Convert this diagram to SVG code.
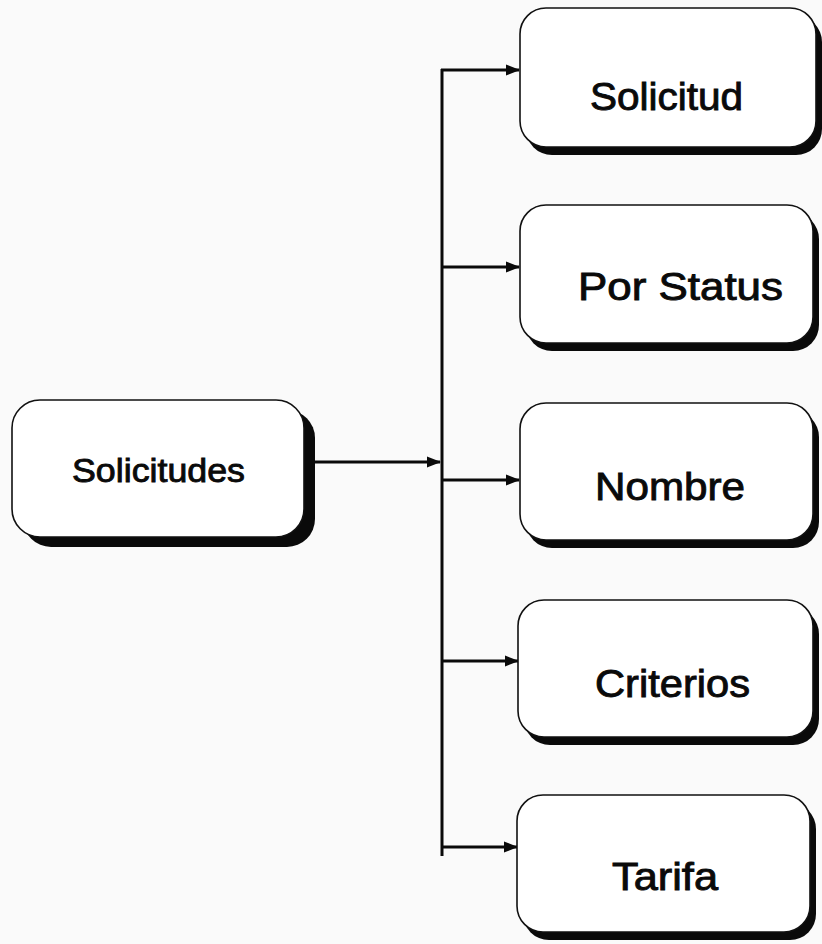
<svg xmlns="http://www.w3.org/2000/svg" width="822" height="944" viewBox="0 0 822 944">
<style>
.box{fill:#fff;stroke:#111;stroke-width:1.6}
.shadow{fill:#0a0a0a}
.lbl{font-family:"Liberation Sans",Arial,sans-serif;fill:#0a0a0a;stroke:#0a0a0a;stroke-width:0.9;text-anchor:start}
.conn{fill:none;stroke:#0a0a0a;stroke-width:3}
</style>
<defs>
<marker id="ah" markerWidth="14" markerHeight="12" refX="13" refY="6" orient="auto" markerUnits="userSpaceOnUse">
<path d="M0,0.5 L14,6 L0,11.5 Z" fill="#0a0a0a"/>
</marker>
</defs>
<rect width="822" height="944" fill="#fafafa"/>
<g id="connectors">
<line class="conn" x1="315" y1="462" x2="440" y2="462" marker-end="url(#ah)"/>
<line class="conn" x1="442" y1="69" x2="442" y2="856"/>
<line class="conn" x1="441" y1="70" x2="519" y2="70" marker-end="url(#ah)"/>
<line class="conn" x1="441" y1="267" x2="519" y2="267" marker-end="url(#ah)"/>
<line class="conn" x1="441" y1="480" x2="519" y2="480" marker-end="url(#ah)"/>
<line class="conn" x1="441" y1="661" x2="518" y2="661" marker-end="url(#ah)"/>
<line class="conn" x1="441" y1="847" x2="517" y2="847" marker-end="url(#ah)"/>
</g>
<g id="solicitudes">
<rect class="shadow" x="23" y="410" width="292" height="137" rx="28"/>
<rect class="box" x="12" y="400" width="292" height="137" rx="28"/>
<text class="lbl" x="72" y="482" font-size="34" textLength="173" lengthAdjust="spacingAndGlyphs">Solicitudes</text>
</g>
<g id="solicitud">
<rect class="shadow" x="526" y="16" width="296" height="139" rx="26"/>
<rect class="box" x="520" y="8" width="296" height="139" rx="26"/>
<text class="lbl" x="590" y="110" font-size="38.5" textLength="153" lengthAdjust="spacingAndGlyphs">Solicitud</text>
</g>
<g id="por-status">
<rect class="shadow" x="526" y="213" width="293" height="138" rx="26"/>
<rect class="box" x="520" y="205" width="293" height="138" rx="26"/>
<text class="lbl" x="578" y="300" font-size="38.5" textLength="205" lengthAdjust="spacingAndGlyphs">Por Status</text>
</g>
<g id="nombre">
<rect class="shadow" x="526" y="411" width="293" height="137" rx="26"/>
<rect class="box" x="520" y="403" width="293" height="137" rx="26"/>
<text class="lbl" x="595" y="500" font-size="38.5" textLength="150" lengthAdjust="spacingAndGlyphs">Nombre</text>
</g>
<g id="criterios">
<rect class="shadow" x="524" y="608" width="295" height="137" rx="26"/>
<rect class="box" x="518" y="600" width="295" height="137" rx="26"/>
<text class="lbl" x="595" y="697" font-size="38.5" textLength="155" lengthAdjust="spacingAndGlyphs">Criterios</text>
</g>
<g id="tarifa">
<rect class="shadow" x="523" y="803" width="293" height="137" rx="26"/>
<rect class="box" x="517" y="795" width="293" height="137" rx="26"/>
<text class="lbl" x="612" y="890" font-size="38.5" textLength="106" lengthAdjust="spacingAndGlyphs">Tarifa</text>
</g>
</svg>
